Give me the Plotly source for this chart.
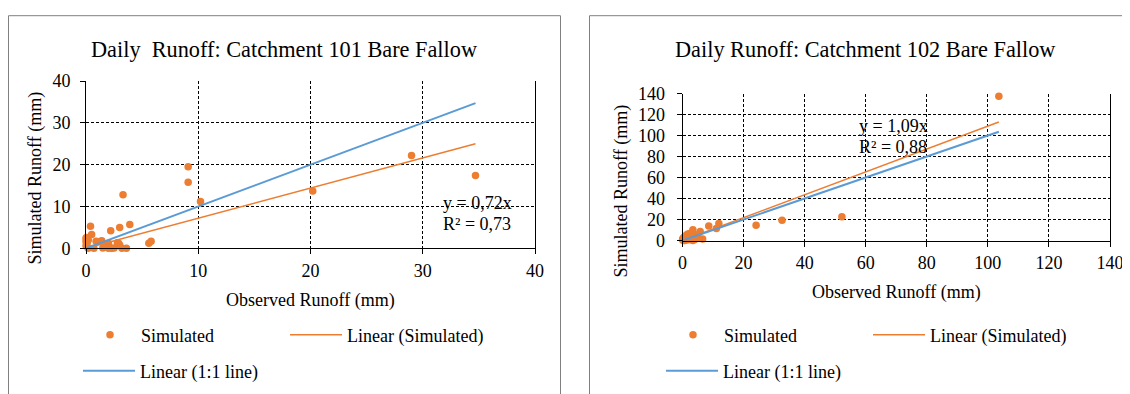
import plotly.graph_objects as go

# ---------------- data ----------------
# Catchment 101 (observed vs simulated daily runoff, mm)
obs_101 = [34.7, 29.0, 20.2, 10.2, 9.1, 9.1, 3.3, 3.9, 3.0, 2.2, 0.4, 0.5, 5.8, 5.6,
           3.6, 0.0, 0.1, 0.9, 1.4, 1.7, 2.3, 3.0, 2.8, 0.2, 0.7, 2.0, 0.0, 0.0,
           1.25, 2.0, 2.9, 2.5, 1.5, 0.05, 0.2, 3.2]
sim_101 = [17.4, 22.2, 13.7, 11.2, 19.5, 15.8, 12.8, 5.7, 5.0, 4.2, 5.3, 3.3, 1.7, 1.2,
           0.0, 2.4, 1.2, 1.7, 1.8, 0.4, 0.0, 0.8, 1.3, 0.0, 0.0, 0.0, 1.6, 0.6,
           1.6, 1.2, 1.2, 0.1, 0.1, 2.6, 2.0, 0.0]
slope_101 = 0.72
r2_101 = 0.73

# Catchment 102
obs_102 = [103.6, 52.2, 32.6, 24.1, 11.9, 11.1, 8.6, 5.8, 6.6, 3.4, 4.0, 1.6, 0.2, 0.7,
           1.0, 2.2, 2.8, 4.5, 0.5, 3.4, 5.1, 0.0, 2.3, 1.9, 1.6, 4.4, 0.1, 0.3]
sim_102 = [137.4, 22.6, 19.2, 14.6, 16.3, 11.5, 13.8, 8.6, 1.5, 10.3, 1.0, 6.0, 2.2, 0.0,
           4.5, 3.2, 0.6, 5.4, 3.2, 0.0, 3.2, 0.6, 6.6, 2.0, 0.5, 2.0, 1.2, 0.0]
slope_102 = 1.09
r2_102 = 0.88

ticks_101 = [0, 10, 20, 30, 40]
ticks_102 = [0, 20, 40, 60, 80, 100, 120, 140]

title_101 = "Daily  Runoff: Catchment 101 Bare Fallow"
title_102 = "Daily Runoff: Catchment 102 Bare Fallow"
x_title = "Observed Runoff (mm)"
y_title = "Simulated Runoff (mm)"

# ---------------- style ----------------
OFF = 8                      # page body margin of the html page
W, H = 1130 - OFF, 394 - OFF
FONT = "Liberation Serif"
ORANGE = "#ED7D31"
BLUE = "#5B9BD5"


def px(x):
    return (x - OFF) / W


def py(y):
    return 1 - (y - OFF) / H


def fmt(v):
    return f"{v:.2f}".replace(".", ",")


fig = go.Figure()


def add_panel(obs, sim, slope, xa, ya, leg_a, leg_b):
    xmax = max(obs)
    fig.add_trace(go.Scatter(
        x=obs, y=sim, mode="markers", name="Simulated",
        marker=dict(color=ORANGE, size=7.5), xaxis=xa, yaxis=ya,
        legend=leg_a, cliponaxis=False))
    fig.add_trace(go.Scatter(
        x=[0, xmax], y=[0, slope * xmax], mode="lines", name="Linear (Simulated)",
        line=dict(color=ORANGE, width=1.5), xaxis=xa, yaxis=ya, legend=leg_a))
    fig.add_trace(go.Scatter(
        x=[0, xmax], y=[0, xmax], mode="lines", name="Linear (1:1 line)",
        line=dict(color=BLUE, width=2), xaxis=xa, yaxis=ya, legend=leg_b))


add_panel(obs_101, sim_101, slope_101, "x", "y", "legend", "legend2")
add_panel(obs_102, sim_102, slope_102, "x2", "y2", "legend3", "legend4")

axis_common = dict(
    showline=True, linecolor="black", linewidth=1,
    showgrid=True, gridcolor="black", gridwidth=1, griddash="3px,2px",
    zeroline=False, ticks="outside", ticklen=5, tickcolor="black",
    tickfont=dict(family=FONT, size=18, color="black"),
    fixedrange=True, automargin=False,
)

legend_common = dict(
    orientation="h", xanchor="left", yanchor="middle",
    bgcolor="rgba(0,0,0,0)", borderwidth=0,
    font=dict(family=FONT, size=18, color="black"),
    entrywidth=139, entrywidthmode="pixels", itemwidth=52,
    traceorder="normal",
)

fig.update_layout(
    width=W, height=H, autosize=False,
    margin=dict(l=0, r=0, t=0, b=0, autoexpand=False),
    paper_bgcolor="white", plot_bgcolor="white",
    xaxis=dict(domain=[px(86), px(535)], range=[0, 40], tickvals=ticks_101,
               anchor="y", ticklabelstandoff=1, **axis_common),
    yaxis=dict(domain=[py(248.3), py(81)], range=[0, 40], tickvals=ticks_101,
               anchor="x", mirror=True, ticklabelstandoff=6, **axis_common),
    xaxis2=dict(domain=[px(682.5), px(1110)], range=[0, 140], tickvals=ticks_102,
                anchor="y2", ticklabelstandoff=1, **axis_common),
    yaxis2=dict(domain=[py(240.5), py(93.5)], range=[0, 140], tickvals=ticks_102,
                anchor="x2", mirror=True, ticklabelstandoff=8, **axis_common),
    legend=dict(x=px(79), y=py(335), **legend_common),
    legend2=dict(x=px(78), y=py(371), **legend_common),
    legend3=dict(x=px(662), y=py(335), **legend_common),
    legend4=dict(x=px(661), y=py(371), **legend_common),
    showlegend=True,
)

# chart frames
frame = dict(type="rect", xref="paper", yref="paper",
             line=dict(color="#808080", width=1), fillcolor="rgba(0,0,0,0)", layer="below")
fig.add_shape(x0=px(8.5), x1=px(560.5), y0=-0.2, y1=py(15.7), **frame)
fig.add_shape(x0=px(589.5), x1=1.2, y0=-0.2, y1=py(15.7), **frame)


def ann(x, y, text, size=18, xanchor="center", angle=0):
    fig.add_annotation(x=px(x), y=py(y), xref="paper", yref="paper", text=text,
                       showarrow=False, xanchor=xanchor, yanchor="middle",
                       textangle=angle, font=dict(family=FONT, size=size, color="black"))


ann(283.5, 50, title_101, size=22.3)
ann(865, 50, title_102, size=22.3)
ann(310.5, 300, x_title)
ann(896, 292, x_title)
ann(34.5, 178, y_title, angle=-90)
ann(621, 191.5, y_title, angle=-90)
ann(441, 203, f"y = {fmt(slope_101)}x", xanchor="left")
ann(441, 224, f"R² = {fmt(r2_101)}", xanchor="left")
ann(857, 126, f"y = {fmt(slope_102)}x", xanchor="left")
ann(857, 147, f"R² = {fmt(r2_102)}", xanchor="left")

fig.write_html("out.html")
